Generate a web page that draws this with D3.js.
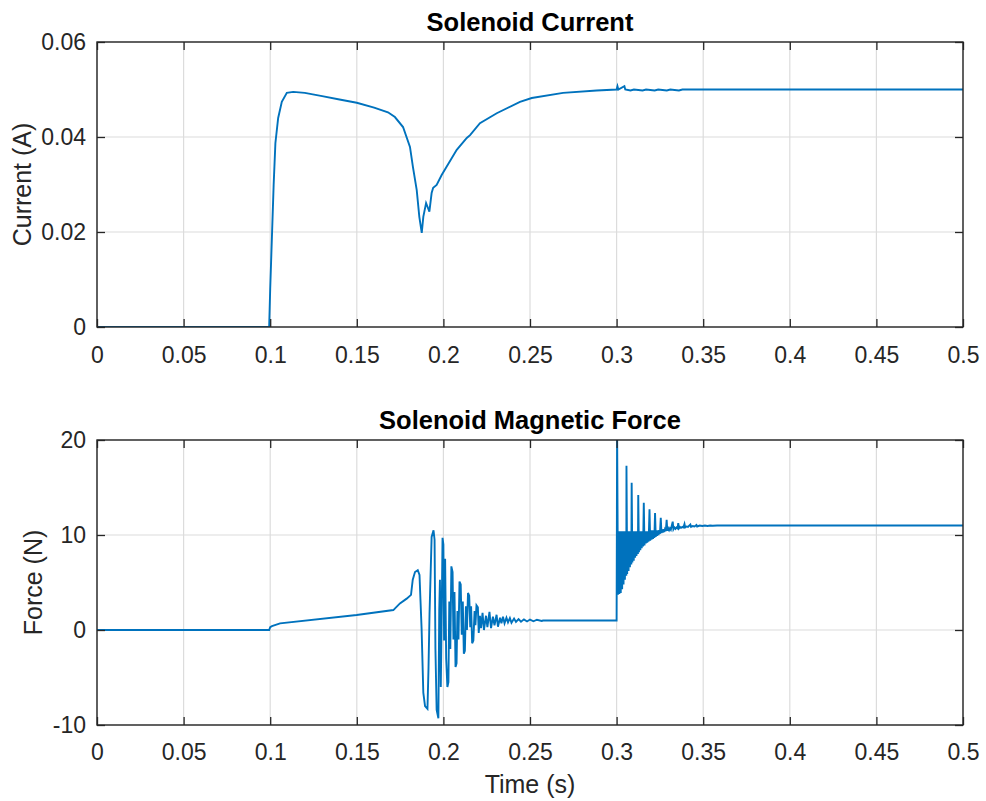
<!DOCTYPE html>
<html><head><meta charset="utf-8">
<script src="https://cdn.jsdelivr.net/npm/d3@7"></script>
<style>body{margin:0;background:#fff}svg{display:block}text{font-family:"Liberation Sans",Arial,sans-serif}</style>
</head><body>
<svg id="chart" width="986" height="801"></svg>
<script>
// ---- data ----
const xTicks = [0,0.05,0.1,0.15,0.2,0.25,0.3,0.35,0.4,0.45,0.5];
const currentTicks = [0,0.02,0.04,0.06];
const forceTicks = [-10,0,10,20];

const currentData = [
[0,0],[0.0994,0],[0.1000,0.008],[0.1010,0.019],[0.1020,0.030],[0.1030,0.0387],[0.1046,0.044],
[0.1067,0.0474],[0.1096,0.0493],[0.1133,0.0495],[0.120,0.0493],[0.130,0.0486],[0.140,0.0479],
[0.150,0.0472],[0.160,0.0462],[0.1680,0.0452],[0.1720,0.0442],[0.1767,0.0421],[0.1807,0.0379],
[0.1824,0.0337],[0.1846,0.0288],[0.1861,0.0232],[0.1875,0.0198],[0.1884,0.0232],[0.1900,0.0261],
[0.1919,0.0243],[0.1932,0.0282],[0.1941,0.0293],[0.1961,0.0299],[0.1990,0.0320],[0.2077,0.0373],
[0.2135,0.0398],[0.2154,0.0404],[0.2211,0.0429],[0.2308,0.0450],[0.2442,0.0474],[0.2510,0.0482],
[0.2691,0.0493],[0.2885,0.0498],[0.3000,0.0500],[0.3005,0.0507],[0.3010,0.0500],[0.3045,0.0507],
[0.3050,0.0500],[0.3080,0.0498],[0.3100,0.0500],[0.3150,0.0498],[0.3170,0.0500],[0.3220,0.0498],
[0.3240,0.0500],[0.3290,0.0498],[0.3310,0.0500],[0.3360,0.0498],[0.3380,0.0500],[0.5,0.0500]
];

const forceRamp = [
[0,0],[0.0994,0],[0.1000,0.3],[0.1010,0.4],[0.1057,0.7],[0.1499,1.58],[0.1711,2.1],[0.1749,2.8],
[0.1788,3.3],[0.1813,3.7],[0.1823,5.3],[0.1836,6.1],[0.1852,6.3],[0.1862,5.8],[0.1868,3.0]
];
const forceOsc1 = [
[0.1874,0.2],[0.1884,-6.6],[0.1894,-8.0],[0.1908,-8.3],[0.1914,-4],[0.1920,1.8],[0.1932,9.8],
[0.1943,10.5],[0.1949,9.5],[0.1954,-2],[0.1961,-8.4],[0.1971,-9.3],[0.1976,2],[0.1980,5.3],
[0.1985,-6.0],[0.1991,3],[0.1995,9.7],[0.2000,9.0],[0.2004,-1.1],[0.2010,7.5],[0.2016,-3],
[0.2023,-6.0],[0.2029,-5.5],[0.2034,3],[0.2040,-2],[0.2046,6.7],[0.2053,6.1],[0.2058,-1],
[0.2064,4],[0.2070,-3.9],[0.2076,-3.5],[0.2081,2],[0.2087,-1],[0.2093,5.1],[0.2100,4.8],
[0.2106,-0.5],[0.2112,3],[0.2118,-2.5],[0.2124,-2.2],[0.2130,2.5],[0.2136,0],[0.2142,3.9],
[0.2149,3.6],[0.2155,0.3],[0.2160,2.5],[0.2166,-1.4],[0.2173,-1.1],[0.2180,2],[0.2185,0.5],
[0.2191,2.6],[0.2199,2.4],[0.2204,-0.3],[0.2211,1.5],[0.2217,0.2],[0.2226,1.8],[0.2234,0],
[0.2246,1.5],[0.2254,0.3],[0.2266,1.9],[0.2275,0.2],[0.2286,1.4],[0.2295,0.5],[0.2307,1.6],
[0.2315,0.35],[0.2327,1.3],[0.2335,0.7],[0.2344,1.4],[0.2353,0.7],[0.2364,1.3],[0.2373,0.8],
[0.2384,1.26],[0.2393,0.77],[0.2408,1.2],[0.2419,0.85],[0.2434,1.15],[0.2448,0.88],[0.2465,1.12],
[0.2483,0.9],[0.2500,1.1],[0.2520,0.92],[0.2540,1.08],[0.2568,0.95],[0.2575,1.0],[0.3000,1.0]
];
const forceOsc2 = [
[0.3003,21],[0.3008,3.7],[0.3012,10.4],[0.3016,3.8],[0.3020,10.4],[0.3024,3.9],[0.3028,10.4],
[0.3032,4.3],[0.3036,10.4],[0.3040,4.8],[0.3044,10.4],[0.3048,5.3],[0.3052,10.4],[0.3056,5.7],
[0.3057,17.3],[0.3061,5.9],[0.3065,10.4],[0.3069,6.2],[0.3073,10.4],[0.3077,6.6],[0.3081,10.4],
[0.3085,6.9],[0.3087,15.5],[0.3091,7.1],[0.3095,10.4],[0.3099,7.3],[0.3103,10.4],[0.3107,7.6],
[0.3111,10.4],[0.3115,7.8],[0.3119,10.4],[0.3123,8.0],[0.3125,14.2],[0.3129,8.2],[0.3133,10.4],
[0.3137,8.4],[0.3141,10.4],[0.3145,8.6],[0.3149,10.4],[0.3153,8.8],[0.3157,13.4],[0.3161,8.9],
[0.3165,10.4],[0.3169,9.1],[0.3173,10.4],[0.3177,9.2],[0.3181,10.4],[0.3185,9.3],[0.3190,12.7],
[0.3194,9.4],[0.3198,10.5],[0.3202,9.5],[0.3206,10.5],[0.3210,9.6],[0.3214,10.5],[0.3218,9.7],
[0.3222,12.3],[0.3226,9.8],[0.3230,10.5],[0.3234,9.9],[0.3238,10.5],[0.3242,10.0],[0.3246,10.5],
[0.3250,10.1],[0.3255,11.8],[0.3259,10.2],[0.3263,10.6],[0.3267,10.25],[0.3271,10.6],[0.3275,10.3],
[0.3279,10.6],[0.3284,10.4],[0.3289,11.6],[0.3293,10.45],[0.3298,10.7],[0.3303,10.5],[0.3308,10.7],
[0.3313,10.55],[0.3324,11.4],[0.3328,10.6],[0.3334,10.8],[0.3340,10.65],[0.3346,10.8],[0.3352,10.7],
[0.3356,11.25],[0.3360,10.7],[0.3366,10.85],[0.3372,10.75],[0.3380,10.85],[0.3386,10.8],
[0.3392,11.15],[0.3396,10.8],[0.3404,10.9],[0.3412,10.85],[0.3426,11.1],[0.3430,10.85],
[0.3440,10.95],[0.3450,10.9],[0.3461,11.05],[0.3465,10.9],[0.3480,11.0],[0.3495,10.95],
[0.3510,11.0],[0.3525,10.95],[0.3540,11.0],[0.3555,10.97],[0.3580,11.0],[0.5,11.0]
];
const forceData = forceRamp.concat(forceOsc1, forceOsc2);

// ---- drawing ----
const svg = d3.select("#chart");
const L = 97, R = 963;
const axColor = "#262626";
const lineColor = "#0072BD";
const x = d3.scaleLinear().domain([0,0.5]).range([L,R]);
const fmt = d => String(d);

function panel(top, bottom, yDomain, yTicks, data, title, ylabel, labelX, xPad, id) {
  const y = d3.scaleLinear().domain(yDomain).range([bottom, top]);
  const g = svg.append("g");
  // grid
  g.append("g").selectAll("line").data(xTicks).join("line")
    .attr("x1", d => x(d)).attr("x2", d => x(d)).attr("y1", top).attr("y2", bottom)
    .attr("stroke", "#dcdcdc").attr("stroke-width", 1.2);
  g.append("g").selectAll("line").data(yTicks).join("line")
    .attr("y1", d => y(d)).attr("y2", d => y(d)).attr("x1", L).attr("x2", R)
    .attr("stroke", "#dcdcdc").attr("stroke-width", 1.2);
  // clip
  svg.append("clipPath").attr("id", id).append("rect")
    .attr("x", L).attr("y", top).attr("width", R - L).attr("height", bottom - top);
  // data line
  g.append("path").datum(data)
    .attr("clip-path", `url(#${id})`)
    .attr("fill", "none").attr("stroke", lineColor).attr("stroke-width", 1.9)
    .attr("d", d3.line().x(d => x(d[0])).y(d => y(d[1])));
  // axes
  const tickLen = 8;
  const bx = d3.axisBottom(x).tickValues(xTicks).tickFormat(fmt).tickSizeInner(-tickLen).tickSizeOuter(0).tickPadding(xPad);
  const tx = d3.axisTop(x).tickValues(xTicks).tickFormat("").tickSizeInner(-tickLen).tickSizeOuter(0);
  const ly = d3.axisLeft(y).tickValues(yTicks).tickFormat(fmt).tickSizeInner(-tickLen).tickSizeOuter(0).tickPadding(11);
  const ry = d3.axisRight(y).tickValues(yTicks).tickFormat("").tickSizeInner(-tickLen).tickSizeOuter(0);
  const axes = [
    g.append("g").attr("transform", `translate(0,${bottom})`).call(bx),
    g.append("g").attr("transform", `translate(0,${top})`).call(tx),
    g.append("g").attr("transform", `translate(${L},0)`).call(ly),
    g.append("g").attr("transform", `translate(${R},0)`).call(ry)
  ];
  axes.forEach(a => {
    a.select(".domain").remove();
    a.selectAll("line").attr("stroke", axColor).attr("stroke-width", 1.3);
    a.selectAll("text").attr("fill", axColor).style("font-size", "23px").style("font-family", '"Liberation Sans", Arial, sans-serif');
  });
  // box
  g.append("rect").attr("x", L).attr("y", top).attr("width", R - L).attr("height", bottom - top)
    .attr("fill", "none").attr("stroke", axColor).attr("stroke-width", 1.4);
  // title
  g.append("text").attr("x", (L + R) / 2).attr("y", top - 11).attr("text-anchor", "middle")
    .style("font-size", "25.5px").style("font-weight", "bold").attr("fill", "#000").text(title);
  // y label
  g.append("text").attr("transform", `translate(${labelX},${(top + bottom) / 2}) rotate(-90)`)
    .attr("text-anchor", "middle").style("font-size", "25px").attr("fill", axColor).text(ylabel);
  return y;
}

panel(42, 327, [0, 0.06], currentTicks, currentData, "Solenoid Current", "Current (A)", 31, 20, "clip1");
panel(440, 725, [-10, 20], forceTicks, forceData, "Solenoid Magnetic Force", "Force (N)", 42, 19, "clip2");

svg.append("text").attr("x", (L + R) / 2).attr("y", 793).attr("text-anchor", "middle")
  .style("font-size", "25px").attr("fill", axColor).text("Time (s)");
</script>
</body></html>
